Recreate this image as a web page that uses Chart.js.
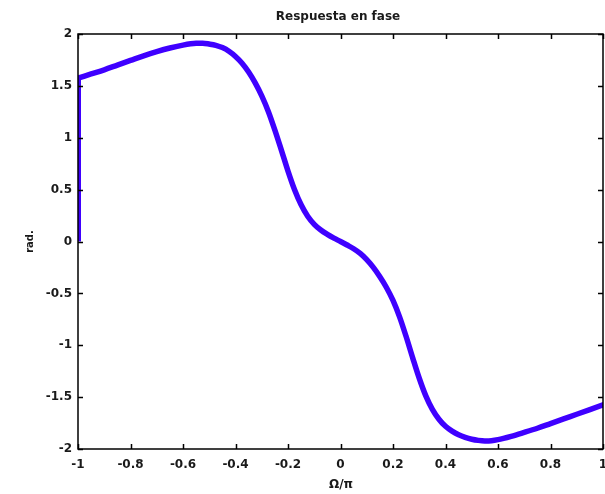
<!DOCTYPE html>
<html><head><meta charset="utf-8">
<script src="https://cdn.jsdelivr.net/npm/chart.js@4"></script>
<style>html,body{margin:0;padding:0;background:#fff}canvas{display:block}</style>
</head><body>
<canvas id="c" width="605" height="494"></canvas>
<script>
const chartTitle = "Respuesta en fase";
const xLabel = "Ω/π";
const yLabel = "rad.";
// jump segment at Ω/π = -1
const jumpOmega = [-1, -1];
const jumpPhase = [0, 1.575];
// main phase curve
const omega = [-1, -0.95, -0.9, -0.85, -0.8, -0.75, -0.7, -0.65, -0.6, -0.55, -0.525, -0.5, -0.475, -0.45, -0.425, -0.4, -0.375, -0.35, -0.325, -0.3, -0.275, -0.25, -0.225, -0.2, -0.175, -0.15, -0.125, -0.1, -0.075, -0.05, -0.025, 0,
               0.025, 0.05, 0.075, 0.1, 0.125, 0.15, 0.175, 0.2, 0.225, 0.25, 0.275, 0.3, 0.325, 0.35, 0.375, 0.4, 0.425, 0.45, 0.475, 0.5, 0.525, 0.55, 0.575, 0.6, 0.65, 0.7, 0.75, 0.8, 0.85, 0.9, 0.95, 1];
const phase = [1.575, 1.615, 1.655, 1.70, 1.745, 1.79, 1.83, 1.865, 1.893, 1.910, 1.911, 1.903, 1.891, 1.869, 1.834, 1.784, 1.719, 1.634, 1.529, 1.404, 1.254, 1.074, 0.879, 0.679, 0.499, 0.354, 0.244, 0.166, 0.111, 0.069, 0.033, 0,
               -0.034, -0.070, -0.115, -0.175, -0.25, -0.34, -0.443, -0.568, -0.726, -0.916, -1.121, -1.318, -1.488, -1.618, -1.713, -1.781, -1.828, -1.863, -1.888, -1.906, -1.917, -1.922, -1.920, -1.910, -1.878, -1.84, -1.80, -1.755, -1.71, -1.665, -1.62, -1.575];
const xTickValues = [-1, -0.8, -0.6, -0.4, -0.2, 0, 0.2, 0.4, 0.6, 0.8, 1];
const yTickValues = [-2, -1.5, -1, -0.5, 0, 0.5, 1, 1.5, 2];

const lineColor = '#3f00ff';
const fontFam = '"DejaVu Sans", Verdana, sans-serif';
const fmt = v => String(Number(v.toFixed(2)));

const boxPlugin = {
  id: 'box',
  afterDraw(chart) {
    const ctx = chart.ctx, a = chart.chartArea;
    const xs = chart.scales.x, ys = chart.scales.y;
    ctx.save();
    ctx.strokeStyle = '#000';
    ctx.lineWidth = 1.5;
    ctx.strokeRect(a.left, a.top, a.right - a.left, a.bottom - a.top);
    ctx.beginPath();
    xTickValues.forEach(v => {
      const p = Math.round(xs.getPixelForValue(v)) + 0.5;
      ctx.moveTo(p, a.bottom); ctx.lineTo(p, a.bottom - 5);
      ctx.moveTo(p, a.top); ctx.lineTo(p, a.top + 5);
    });
    yTickValues.forEach(v => {
      const p = Math.round(ys.getPixelForValue(v)) + 0.5;
      ctx.moveTo(a.left, p); ctx.lineTo(a.left + 5, p);
      ctx.moveTo(a.right, p); ctx.lineTo(a.right - 5, p);
    });
    ctx.stroke();
    ctx.fillStyle = '#1a1a1a';
    ctx.textAlign = 'center';
    ctx.textBaseline = 'middle';
    ctx.font = 'bold 12px ' + fontFam;
    ctx.fillText(chartTitle, 338, 17);
    ctx.fillText(xLabel, 341, 485);
    ctx.translate(30, (a.top + a.bottom) / 2);
    ctx.rotate(-Math.PI / 2);
    ctx.font = 'bold 10px ' + fontFam;
    ctx.fillText(yLabel, 0, 0);
    ctx.restore();
  }
};

new Chart(document.getElementById('c'), {
  type: 'scatter',
  data: {
    datasets: [
      {
        data: jumpOmega.map((x, i) => ({x, y: jumpPhase[i]})),
        showLine: true, borderColor: lineColor, borderWidth: 6, pointRadius: 0, tension: 0
      },
      {
        data: omega.map((x, i) => ({x, y: phase[i]})),
        showLine: true, borderColor: lineColor, borderWidth: 5.5, pointRadius: 0,
        cubicInterpolationMode: 'monotone', borderCapStyle: 'round', borderJoinStyle: 'round'
      }
    ]
  },
  options: {
    responsive: false,
    animation: false,
    devicePixelRatio: 1,
    layout: { padding: { top: 34, right: 2, left: 0, bottom: 0 } },
    plugins: { legend: { display: false }, tooltip: { enabled: false }, title: { display: false } },
    scales: {
      x: {
        type: 'linear', min: -1, max: 1,
        afterBuildTicks: s => { s.ticks = xTickValues.map(v => ({ value: v })); },
        afterFit: s => { s.height = 45; s.paddingLeft = 0; s.paddingRight = 0; },
        grid: { display: false, drawTicks: false },
        border: { display: false },
        ticks: { padding: 9, maxRotation: 0, autoSkip: false, color: '#1a1a1a',
                 font: { family: fontFam, size: 12, weight: 'bold' },
                 callback: v => fmt(v) }
      },
      y: {
        type: 'linear', min: -2, max: 2,
        afterBuildTicks: s => { s.ticks = yTickValues.map(v => ({ value: v })); },
        afterFit: s => { s.width = 78; s.paddingTop = 0; s.paddingBottom = 0; },
        grid: { display: false, drawTicks: false },
        border: { display: false },
        ticks: { padding: 6, autoSkip: false, color: '#1a1a1a',
                 font: { family: fontFam, size: 12, weight: 'bold' },
                 callback: v => fmt(v) }
      }
    }
  },
  plugins: [boxPlugin]
});
</script>
</body></html>
